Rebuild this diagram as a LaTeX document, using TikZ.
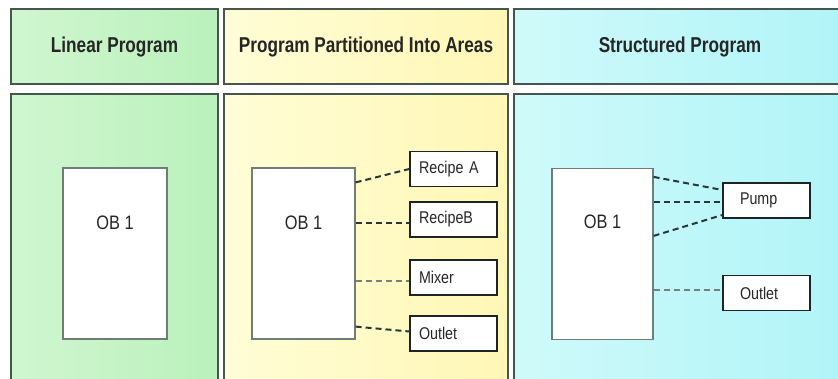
\documentclass[tikz,border=0pt]{standalone}
\usepackage{fontspec}
\newfontfamily\headfont[FakeStretch=0.8]{Liberation Sans}
\newfontfamily\labelfont[FakeStretch=0.84]{Liberation Sans}
\usetikzlibrary{calc}

\definecolor{frame}{RGB}{70,85,78}
\definecolor{obframe}{RGB}{110,125,120}
\definecolor{boxframe}{RGB}{30,35,35}
\definecolor{linkdark}{RGB}{40,55,55}
\definecolor{linkgrey}{RGB}{115,130,125}
\definecolor{greenA}{RGB}{208,246,208}
\definecolor{greenB}{RGB}{186,241,188}
\definecolor{yellowA}{RGB}{255,253,214}
\definecolor{yellowB}{RGB}{255,247,182}
\definecolor{cyanA}{RGB}{208,250,250}
\definecolor{cyanB}{RGB}{176,244,248}

\tikzset{
  panel/.style={draw=frame, line width=1.6pt, rectangle, inner sep=0pt},
  greenpanel/.style={panel, left color=greenA, right color=greenB},
  yellowpanel/.style={panel, left color=yellowA, right color=yellowB},
  cyanpanel/.style={panel, left color=cyanA, right color=cyanB},
  headtext/.style={font=\headfont\bfseries\fontsize{21.5}{24}\selectfont, text=black!85},
  obbox/.style={draw=obframe, fill=white, line width=1.2pt, minimum width=103pt,
    minimum height=171pt, inner sep=0pt},
  obtext/.style={font=\labelfont\fontsize{19.5}{22}\selectfont, text=black!85, inner sep=0pt},
  unitbox/.style={draw=boxframe, fill=white, line width=1.3pt, minimum height=35pt,
    text width=69pt, inner xsep=9pt, inner ysep=0pt, align=left,
    font=\labelfont\fontsize{17}{19}\selectfont, text=black!85},
  unitboxwide/.style={unitbox, text width=53pt, inner xsep=17pt},
  link/.style={draw=linkdark, line width=2pt, dash pattern=on 6pt off 4pt},
  faintlink/.style={draw=linkgrey, line width=2pt, dash pattern=on 6pt off 4pt}
}

\begin{document}
\begin{tikzpicture}[x=1pt, y=-1pt]
  \useasboundingbox (0,0) rectangle (838,379);
  \clip (0,0) rectangle (838,379);
  \fill[white] (0,0) rectangle (838,379);

  % column headers
  \node[greenpanel, minimum width=207pt, minimum height=75pt] (h1) at (114.5,46.5) {};
  \node[yellowpanel, minimum width=284pt, minimum height=75pt] (h2) at (366,46.5) {};
  \node[cyanpanel, minimum width=332pt, minimum height=75pt] (h3) at (680,46.5) {};
  \node[headtext] (t1) at (h1.center) {Linear Program};
  \node[headtext] (t2) at (h2.center) {Program Partitioned Into Areas};
  \node[headtext] (t3) at (h3.center) {Structured Program};

  % column bodies
  \node[greenpanel, minimum width=207pt, minimum height=292pt] (b1) at (114.5,240) {};
  \node[yellowpanel, minimum width=284pt, minimum height=292pt] (b2) at (366,240) {};
  \node[cyanpanel, minimum width=332pt, minimum height=292pt] (b3) at (680,240) {};

  % organization blocks
  \node[obbox, minimum width=104pt] (ob1) at (115,253.5) {};
  \node[obbox] (ob2) at (303.5,253.5) {};
  \node[obbox, minimum width=101pt] (ob3) at (602.5,254) {};
  \node[obtext] (o1) at ($(ob1.north)+(0,55)$) {OB 1};
  \node[obtext] (o2) at ($(ob2.north)+(0,55)$) {OB 1};
  \node[obtext] (o3) at ($(ob3.north)+(0,54)$) {OB 1};

  % areas of the partitioned program
  \node[unitbox] (ra) at (453.5,169) {Recipe A};
  \node[unitbox] (rb) at (453.5,219.5) {RecipeB};
  \node[unitbox] (mx) at (453.5,277.5) {Mixer};
  \node[unitbox] (ou) at (453.5,333.5) {Outlet};

  % blocks of the structured program
  \node[unitboxwide] (pump) at (766.5,200.5) {Pump};
  \node[unitboxwide] (out3) at (766.5,293) {Outlet};

  % calls from OB 1 into the areas
  \draw[link] ($(ob2.north east)+(0,15)$) -- (ra.west);
  \draw[link] ($(ob2.east |- rb.west)+(0,3.5)$) -- ($(rb.west)+(0,3.5)$);
  \draw[faintlink] ($(ob2.east |- mx.west)+(0,3.5)$) -- ($(mx.west)+(0,3.5)$);
  \draw[link] ($(ob2.south east)+(0,-13)$) -- ($(ou.west)+(0,-2)$);

  % calls from OB 1 into the blocks
  \draw[link] ($(ob3.north east)+(0,9)$) -- ($(pump.west)+(0,-10.5)$);
  \draw[link] ($(ob3.east |- pump.west)+(0,1.5)$) -- ($(pump.west)+(0,1.5)$);
  \draw[link] ($(ob3.north east)+(0,68)$) -- ($(pump.west)+(0,14.5)$);
  \draw[faintlink] ($(ob3.east |- out3.west)+(0,-3)$) -- ($(out3.west)+(0,-3)$);
\end{tikzpicture}
\end{document}
